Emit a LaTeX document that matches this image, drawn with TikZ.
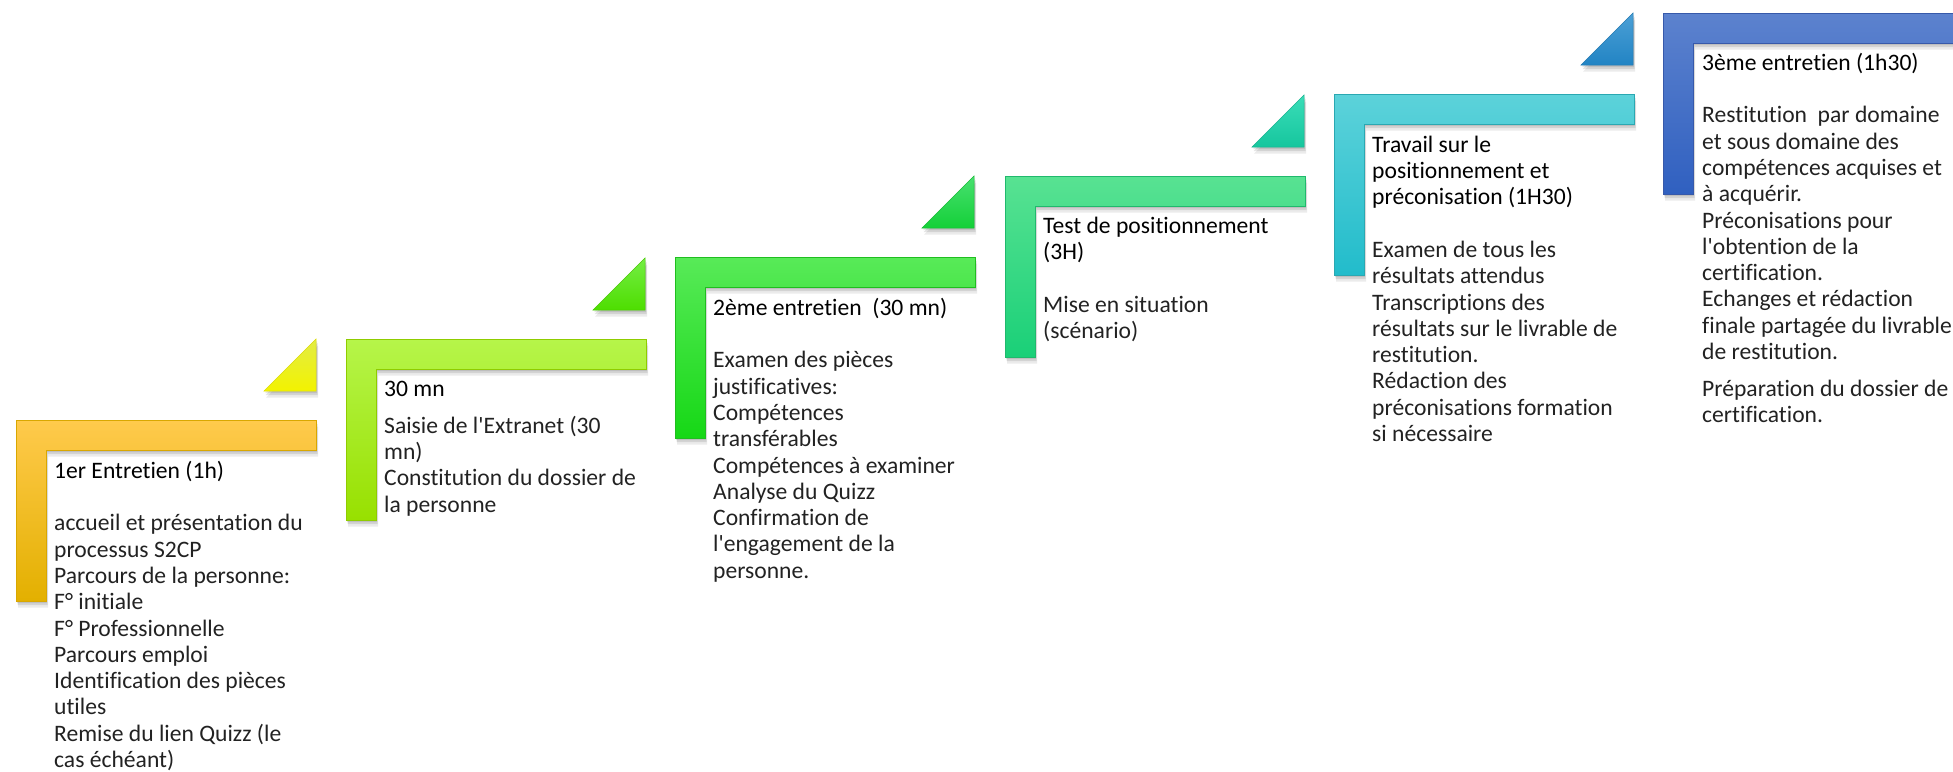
\documentclass[tikz,border=0pt]{standalone}
\usepackage{fontspec}
\setmainfont[Ligatures={NoCommon}]{Carlito}
\definecolor{bodytxt}{HTML}{222222}
\definecolor{ta1}{HTML}{E2EC45}\definecolor{tb1}{HTML}{F3F300}
\definecolor{ta2}{HTML}{74EE45}\definecolor{tb2}{HTML}{4EDE00}
\definecolor{ta3}{HTML}{48E070}\definecolor{tb3}{HTML}{14D038}
\definecolor{ta4}{HTML}{3ADDB8}\definecolor{tb4}{HTML}{16C69E}
\definecolor{ta5}{HTML}{4CA0D6}\definecolor{tb5}{HTML}{2284C4}
\definecolor{la1}{HTML}{FFCA4C}\definecolor{lm1}{HTML}{FFC400}\definecolor{lb1}{HTML}{E3B000}
\definecolor{la2}{HTML}{B6F54A}\definecolor{lm2}{HTML}{A8F000}\definecolor{lb2}{HTML}{98E000}
\definecolor{la3}{HTML}{58EA58}\definecolor{lm3}{HTML}{26E026}\definecolor{lb3}{HTML}{16D816}
\definecolor{la4}{HTML}{58E292}\definecolor{lm4}{HTML}{26DA80}\definecolor{lb4}{HTML}{1AD078}
\definecolor{la5}{HTML}{5CD2DA}\definecolor{lm5}{HTML}{32C6D1}\definecolor{lb5}{HTML}{22BCCB}
\definecolor{la6}{HTML}{5C82CE}\definecolor{lm6}{HTML}{4169C8}\definecolor{lb6}{HTML}{3060C0}
\tikzset{
  soft/.style={
    preaction={fill=black, opacity=0.10, transform canvas={xshift=1pt, yshift=-2pt}},
    preaction={fill=black, opacity=0.10, transform canvas={xshift=1.5pt, yshift=-4pt}},
    preaction={fill=black, opacity=0.08, transform canvas={xshift=2pt, yshift=-6.5pt}}},
  lshape/.style={soft, top color=la#1, middle color=lm#1, bottom color=lb#1, draw=lm#1!85!black, line width=0.5pt},
  tri/.style={soft, top color=ta#1, bottom color=tb#1, draw=tb#1!90!black, line width=0.5pt},
  txt/.style={anchor=north west, inner sep=0pt, align=left, text=bodytxt,
    font=\fontsize{23.6}{26.3}\selectfont}
}
\newcommand\topstrut{\vrule height 20pt depth 0pt width 0pt}
\newcommand\ttl[1]{{\color{black}#1}}
\newcommand\Lpath[2]{(#1,#2) -- ++(300,0) -- ++(0,30) -- ++(-270,0) -- ++(0,151) -- ++(-30,0) -- cycle}
\begin{document}
\begin{tikzpicture}[x=1pt, y=-1pt]
\useasboundingbox (0,0) rectangle (1953,771);
\clip (0,0) rectangle (1953,771);
% triangles (right angle at R, T-29)
\path[tri=1] (316,391) coordinate (t1) -- (316,339) -- (264,391) -- cycle;
\path[tri=2] (645,310) coordinate (t2) -- (645,258) -- (593,310) -- cycle;
\path[tri=3] (974,228) coordinate (t3) -- (974,176) -- (922,228) -- cycle;
\path[tri=4] (1304,147) coordinate (t4) -- (1304,95) -- (1252,147) -- cycle;
\path[tri=5] (1633,65) coordinate (t5) -- (1633,13) -- (1581,65) -- cycle;
% L shapes
\path[lshape=1] \Lpath{16}{420};
\path[lshape=2] \Lpath{346}{339};
\path[lshape=3] \Lpath{675}{257};
\path[lshape=4] \Lpath{1005}{176};
\path[lshape=5] \Lpath{1334}{94};
\path[lshape=6] \Lpath{1663}{13};
% texts
\node[txt] (s1) at (54,458) {\topstrut\ttl{1er Entretien (1h)}\\[26.3pt]
accueil et présentation du\\ processus S2CP\\ Parcours de la personne:\\ F° initiale\\ F° Professionnelle\\ Parcours emploi\\ Identification des pièces\\ utiles\\ Remise du lien Quizz (le\\ cas échéant)};
\node[txt] (s2) at (384,376) {\topstrut\ttl{30 mn}\\[10.7pt]
Saisie de l\textquotesingle Extranet (30\\ mn)\\ Constitution du dossier de\\ la personne};
\node[txt] (s3) at (713,295) {\topstrut\ttl{2ème entretien~ (30 mn)}\\[26.3pt]
Examen des pièces\\ justificatives:\\ Compétences\\ transférables\\ Compétences à examiner\\ Analyse du Quizz\\ Confirmation de\\ l\textquotesingle engagement de la\\ personne.};
\node[txt] (s4) at (1043,213) {\topstrut\ttl{Test de positionnement}\\ \ttl{(3H)}\\[26.3pt]
Mise en situation\\ (scénario)};
\node[txt] (s5) at (1372,132) {\topstrut\ttl{Travail sur le}\\ \ttl{positionnement et}\\ \ttl{préconisation (1H30)}\\[26.3pt]
Examen de tous les\\ résultats attendus\\ Transcriptions des\\ résultats sur le livrable de\\ restitution.\\ Rédaction des\\ préconisations formation\\ si nécessaire};
\node[txt] (s6) at (1702,50) {\topstrut\ttl{3ème entretien (1h30)}\\[26.3pt]
Restitution~ par domaine\\ et sous domaine des\\ compétences acquises et\\ à acquérir.\\ Préconisations pour\\ l\textquotesingle obtention de la\\ certification.\\ Echanges et rédaction\\ finale partagée du livrable\\ de restitution.\\[10.7pt]
Préparation du dossier de\\ certification.};
\end{tikzpicture}
\end{document}
